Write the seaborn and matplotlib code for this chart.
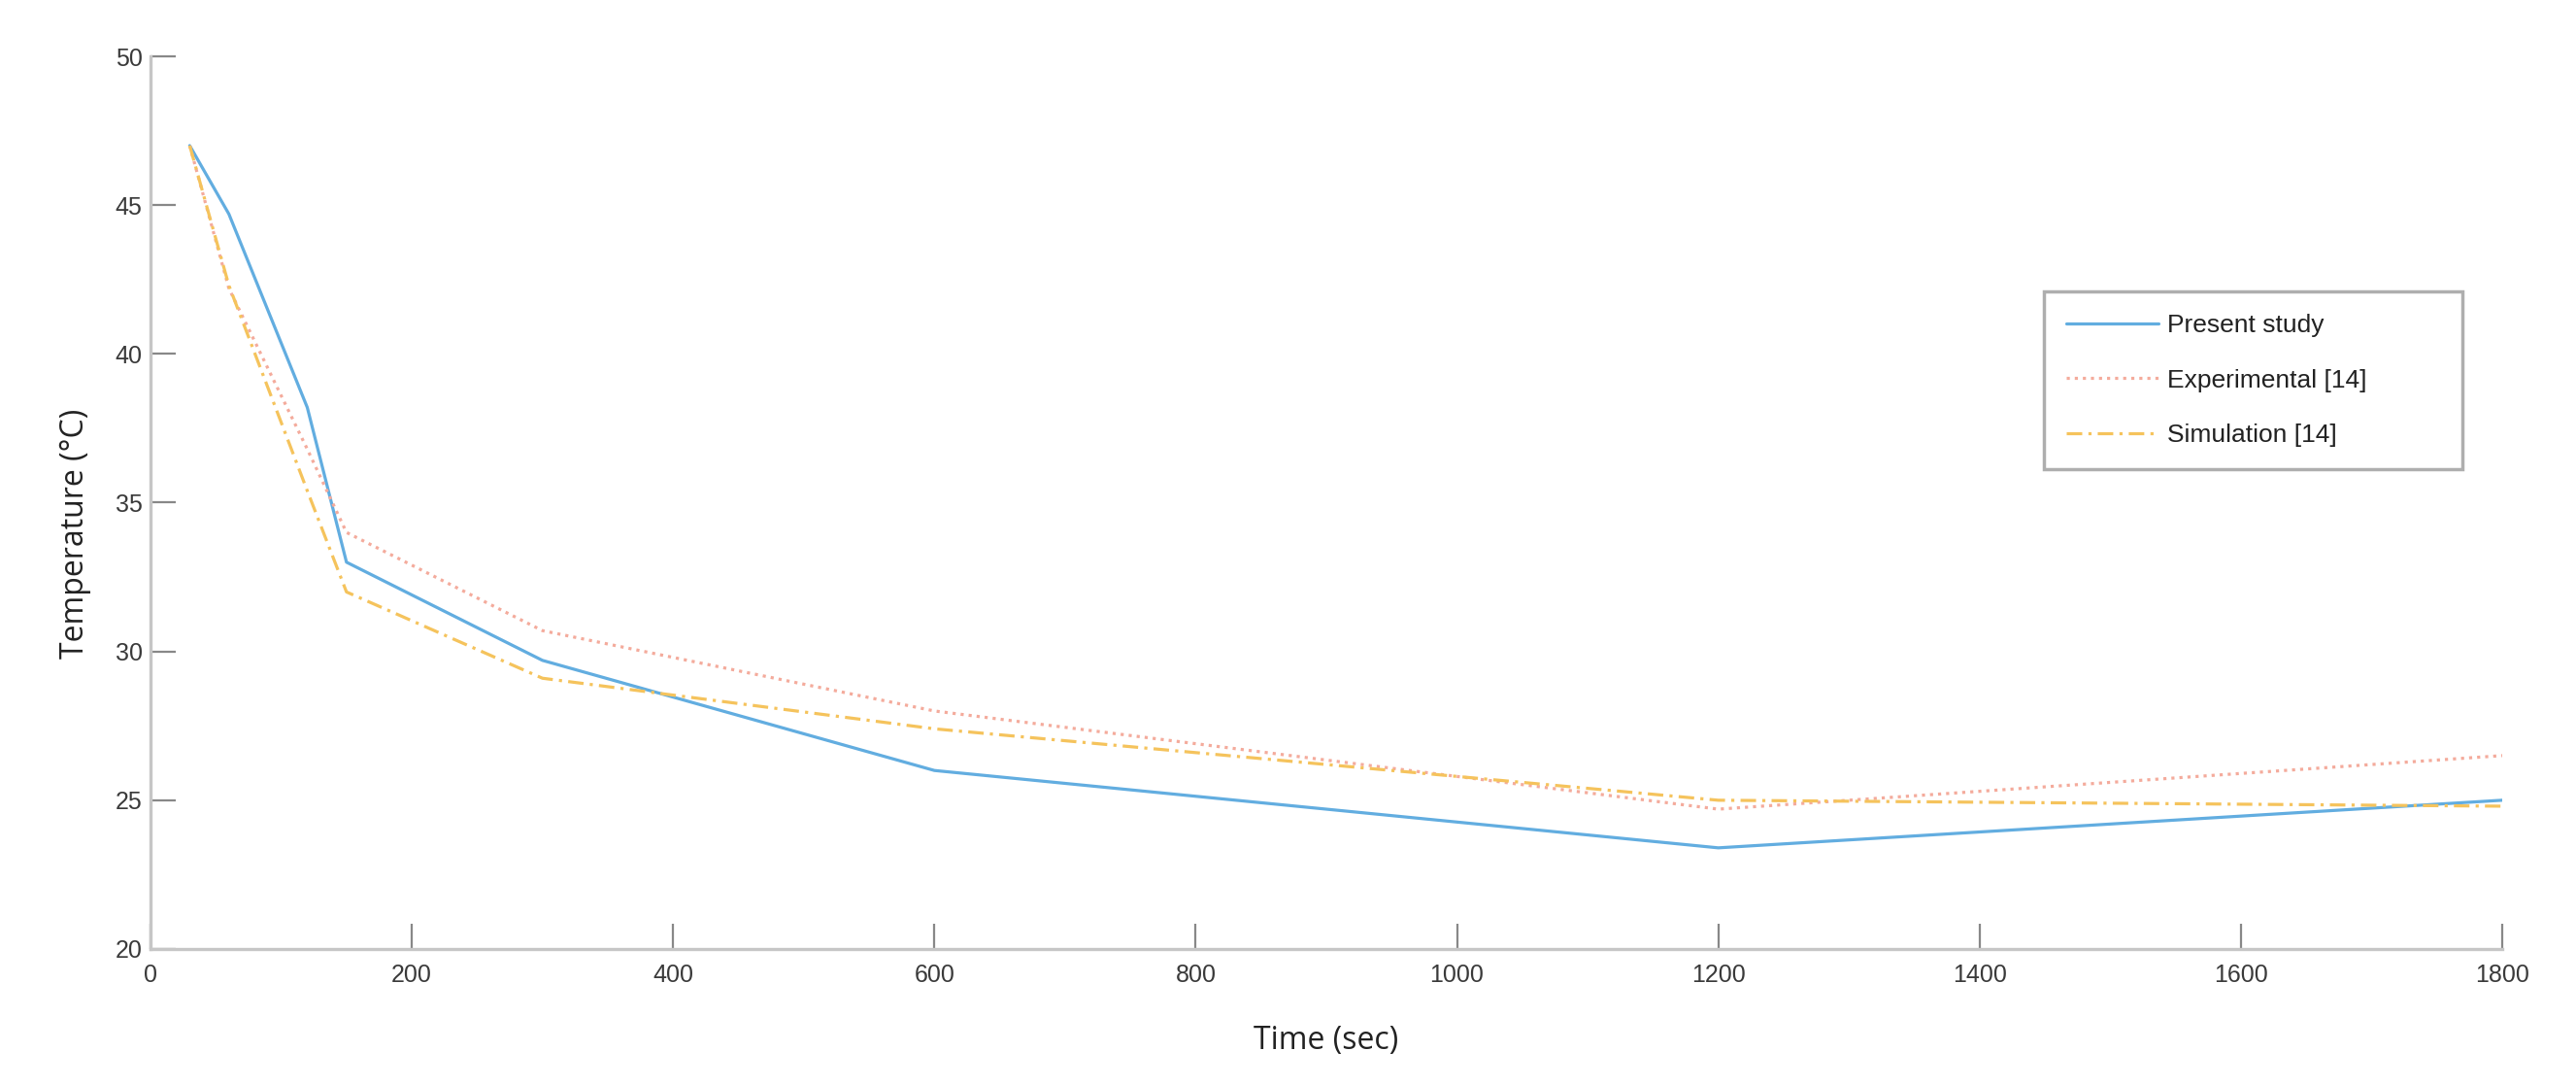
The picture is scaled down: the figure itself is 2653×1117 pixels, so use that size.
import matplotlib
matplotlib.use("Agg")
import matplotlib.pyplot as plt
import seaborn as sns
import pandas as pd

time_sec = [30, 60, 120, 150, 300, 600, 1200, 1800]
present_study = [47.0, 44.7, 38.2, 33.0, 29.7, 26.0, 23.4, 25.0]
experimental = [47.0, 42.2, 36.8, 34.0, 30.7, 28.0, 24.7, 26.5]
simulation = [47.0, 42.3, 35.4, 32.0, 29.1, 27.4, 25.0, 24.8]
series_names = ["Present study", "Experimental [14]", "Simulation [14]"]
x_ticks = [0, 200, 400, 600, 800, 1000, 1200, 1400, 1600, 1800]
y_ticks = [20, 25, 30, 35, 40, 45, 50]

sns.set_style("white")
plt.rcParams['font.family'] = ['Liberation Sans', 'DejaVu Sans']

df = pd.concat([
    pd.DataFrame({"Time": time_sec, "Temp": vals, "Series": name})
    for name, vals in zip(series_names, [present_study, experimental, simulation])
])

fig = plt.figure(figsize=(26.53, 11.17), dpi=100)
ax = fig.add_axes([155/2653, 1-977/1117, (2577-155)/2653, (977-58)/1117])

styles = {
    "Present study": dict(color="#62ade0", linestyle="-", lw=2.3),
    "Experimental [14]": dict(color="#f4ab9c", linestyle=(0, (1, 1.6)), lw=2.3),
    "Simulation [14]": dict(color="#f5c35c", linestyle=(0, (5, 2, 1, 2)), lw=2.3),
}
for name in series_names:
    sub = df[df["Series"] == name]
    sns.lineplot(data=sub, x="Time", y="Temp", ax=ax, label=name, **styles[name])

ax.set_xlim(0, 1800)
ax.set_ylim(20, 50)
ax.set_xticks(x_ticks)
ax.set_yticks(y_ticks)
ax.tick_params(bottom=True, left=True, direction="in", length=19, width=1.6, color="#888888",
               labelsize=18, labelcolor="#3a3a3a")
ax.tick_params(axis="y", pad=6)
ax.tick_params(axis="x", pad=11)
for side in ["top", "right"]:
    ax.spines[side].set_visible(False)
for side in ["left", "bottom"]:
    ax.spines[side].set_color("#c6c6c6")
    ax.spines[side].set_linewidth(2.4)

ax.set_xlabel("Time (sec)", fontsize=23, family=["Open Sans", "DejaVu Sans"], color="#222222", labelpad=28)
ax.set_ylabel("Temperature (°C)", fontsize=23, family=["Open Sans", "DejaVu Sans"], color="#222222", labelpad=18)
ax.yaxis.label.set_y(0.465)

x0 = (2105-155)/2422
w = (2536-2105)/2422
ytop = (977-300)/919
leg = ax.legend(loc="upper left", bbox_to_anchor=(x0, ytop - 0.01, w, 0.01), mode="expand",
                fontsize=19, frameon=True, fancybox=False, handlelength=3.6, handletextpad=0.35,
                borderpad=0.88, labelspacing=1.23, borderaxespad=0)
leg.get_frame().set_edgecolor("#9a9a9a")
leg.get_frame().set_linewidth(2.5)
for t in leg.get_texts():
    t.set_color("#222222")

fig.savefig("out.png", dpi=100)
